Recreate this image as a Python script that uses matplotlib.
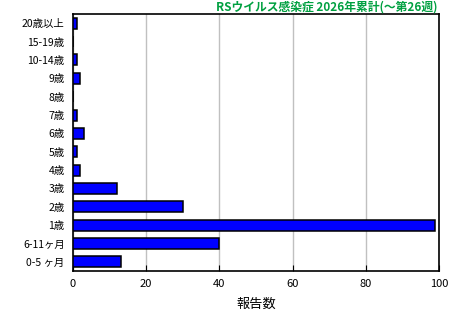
import numpy as np
import matplotlib
matplotlib.use('Agg')
import matplotlib.pyplot as plt

plt.rcParams['font.family'] = ['Noto Sans CJK JP', 'DejaVu Sans']

# age groups, bottom to top
categories = ['0-5 ヶ月', '6-11ヶ月', '1歳', '2歳', '3歳', '4歳', '5歳', '6歳',
              '7歳', '8歳', '9歳', '10-14歳', '15-19歳', '20歳以上']
counts = [13, 40, 99, 30, 12, 2, 1, 3, 1, 0, 2, 1, 0, 1]
xticks = [0, 20, 40, 60, 80, 100]

fig = plt.figure(figsize=(4.6, 3.2), dpi=100)
ax = fig.add_axes([0.1587, 0.153, 0.7956, 0.803])

y = np.arange(len(categories))
ax.barh(y, counts, height=0.6, color='#0000FF', edgecolor='black', linewidth=1.1, zorder=3)

ax.set_xlim(0, 100)
ax.set_ylim(-0.5, len(categories) - 0.5)
ax.set_xticks(xticks)
ax.set_xticklabels([str(t) for t in xticks], fontsize=8)
ax.set_yticks(y)
ax.set_yticklabels(categories, fontsize=7.5)
ax.tick_params(axis='y', length=0, pad=6)
ax.tick_params(axis='x', length=4, direction='in', pad=6)
ax.grid(axis='x', color='#C0C0C0', linewidth=1.0, zorder=0)
for s in ax.spines.values():
    s.set_linewidth(1.2)
    s.set_color('black')

ax.set_xlabel('報告数', fontsize=9.5, labelpad=6)
fig.text(0.952, 0.978, 'RSウイルス感染症 2026年累計(〜第26週)', color='#00A040',
         fontsize=8.5, fontweight='bold', ha='right', va='center')

fig.savefig('out.png', dpi=100)
